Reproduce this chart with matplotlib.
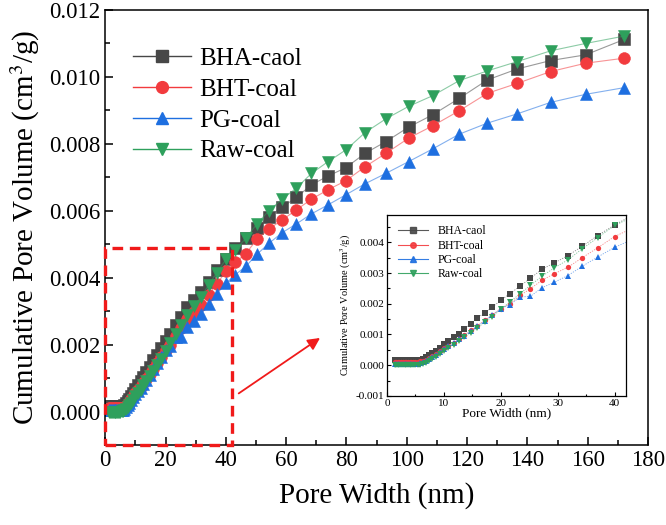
import matplotlib
matplotlib.use('Agg')
import matplotlib.pyplot as plt
from matplotlib.ticker import MultipleLocator, FormatStrFormatter
from matplotlib.patches import Rectangle

plt.rcParams['font.family'] = ['Liberation Serif', 'DejaVu Serif']
plt.rcParams['mathtext.fontset'] = 'stix'

# pore width (nm), shared by all four samples
width = [1.4, 1.6, 1.9, 2.2, 2.5, 2.8, 3.1, 3.4, 3.7, 4.0, 4.3, 4.6, 5.0, 5.4,
         5.8, 6.3, 6.8, 7.4, 7.9, 8.6, 9.3, 10.0, 10.8, 11.7, 12.6, 13.6, 14.7,
         15.9, 17.2, 18.5, 20.0, 21.6, 23.4, 25.2, 27.2, 29.4, 31.8, 34.3, 37.0,
         40.0, 43.1, 46.6, 50.3, 54.3, 58.7, 63.4, 68.4, 73.9, 79.8, 86.2, 93.1,
         100.6, 108.6, 117.4, 126.7, 136.7, 147.7, 159.3, 172.1]

# cumulative pore volume, 1e-3 cm3/g
bha = [0.16, 0.16, 0.16, 0.16, 0.16, 0.16, 0.16, 0.16, 0.16, 0.16, 0.16, 0.16, 0.16, 0.17,
       0.18, 0.21, 0.26, 0.32, 0.39, 0.47, 0.57, 0.68, 0.79, 0.92, 1.03, 1.19, 1.35,
       1.55, 1.70, 1.89, 2.11, 2.33, 2.58, 2.83, 3.12, 3.33, 3.57, 3.87, 4.22,
       4.57, 4.88, 5.18, 5.50, 5.83, 6.11, 6.40, 6.78, 7.04, 7.29, 7.72, 8.07,
       8.50, 8.87, 9.36, 9.91, 10.24, 10.49, 10.66, 11.12]
bht = [0.11, 0.11, 0.11, 0.11, 0.11, 0.11, 0.11, 0.11, 0.11, 0.11, 0.11, 0.11, 0.11, 0.11,
       0.12, 0.14, 0.18, 0.23, 0.29, 0.37, 0.45, 0.55, 0.64, 0.73, 0.86, 0.98, 1.13,
       1.29, 1.46, 1.64, 1.84, 2.00, 2.27, 2.49, 2.76, 2.98, 3.19, 3.50, 3.82,
       4.19, 4.46, 4.72, 5.15, 5.46, 5.73, 6.03, 6.35, 6.63, 6.90, 7.32, 7.72,
       8.17, 8.54, 8.99, 9.51, 9.81, 10.16, 10.41, 10.56]
pg = [0.04, 0.04, 0.04, 0.04, 0.04, 0.04, 0.04, 0.04, 0.04, 0.04, 0.04, 0.04, 0.04, 0.05,
      0.06, 0.09, 0.13, 0.19, 0.25, 0.34, 0.43, 0.52, 0.62, 0.71, 0.84, 0.96, 1.11,
      1.27, 1.45, 1.63, 1.84, 1.97, 2.22, 2.24, 2.52, 2.70, 2.92, 3.22, 3.52,
      3.84, 4.09, 4.34, 4.70, 5.03, 5.35, 5.61, 5.91, 6.18, 6.48, 6.81, 7.12,
      7.47, 7.85, 8.29, 8.62, 8.90, 9.24, 9.48, 9.68]
raw = [-0.01, -0.01, -0.01, -0.01, -0.01, -0.01, -0.01, -0.01, -0.01, -0.01, -0.01, 0.0, 0.0, 0.01,
       0.02, 0.04, 0.08, 0.13, 0.19, 0.27, 0.36, 0.46, 0.57, 0.66, 0.79, 0.91, 1.06,
       1.22, 1.40, 1.58, 1.82, 2.06, 2.33, 2.60, 2.89, 3.17, 3.43, 3.79, 4.15,
       4.55, 4.82, 5.18, 5.61, 6.01, 6.35, 6.68, 7.12, 7.47, 7.82, 8.34, 8.75,
       9.12, 9.44, 9.89, 10.18, 10.46, 10.78, 11.00, 11.22]

labels = ['BHA-caol', 'BHT-coal', 'PG-coal', 'Raw-coal']
colors = ['#474747', '#f23b3e', '#1e6fe0', '#2ea05c']
markers = ['s', 'o', '^', 'v']
series = [bha, bht, pg, raw]

fig = plt.figure(figsize=(6.66, 5.25), dpi=100)
ax = fig.add_axes([0.158, 0.152, 0.815, 0.829])

for vals, lab, col, mk in zip(series, labels, colors, markers):
    y = [v / 1000 for v in vals]
    ax.plot(width, y, color=col, lw=0.8, alpha=0.55)
    ax.plot(width, y, ls='none', marker=mk, ms=8.5, color=col, mec=col, mew=0.4)

handles = [plt.Line2D([], [], color=c, lw=1.0, marker=m, ms=8.5, alpha=1)
           for c, m in zip(colors, markers)]
ax.legend(handles, labels, loc='upper left', bbox_to_anchor=(0.01, 0.965),
          frameon=False, fontsize=18, handlelength=2.3, handletextpad=0.35,
          labelspacing=0.33, borderaxespad=0.5)

ax.set_xlim(0, 180)
ax.set_ylim(-0.001, 0.012)
ax.xaxis.set_major_locator(MultipleLocator(20))
ax.xaxis.set_minor_locator(MultipleLocator(10))
ax.yaxis.set_major_locator(MultipleLocator(0.002))
ax.yaxis.set_minor_locator(MultipleLocator(0.001))
ax.yaxis.set_major_formatter(FormatStrFormatter('%.3f'))
ax.tick_params(which='both', direction='in', labelsize=16.5, width=1.1)
ax.tick_params(which='major', length=6)
ax.tick_params(which='minor', length=3.5)
for s in ax.spines.values():
    s.set_linewidth(1.1)
ax.set_xlabel('Pore Width (nm)', fontsize=21, labelpad=8)
ax.set_ylabel('Cumulative Pore Volume (cm$^3$/g)', fontsize=21, labelpad=5)

# zoom box and arrow
rect = Rectangle((0, -0.001), 42, 0.0059, fill=False, ec='#f01a1a', lw=2.4,
                 ls=(0, (3.2, 2)), clip_on=False, zorder=10)
ax.add_patch(rect)
ax.annotate('', xy=(72, 0.00225), xytext=(43.5, 0.0005),
            arrowprops=dict(arrowstyle='-|>', color='#f01a1a', lw=1.3,
                            mutation_scale=18))

# inset
ins = fig.add_axes([0.581, 0.246, 0.359, 0.345])
for vals, lab, col, mk in zip(series, labels, colors, markers):
    y = [v / 1000 for v in vals]
    ins.plot(width, y, color=col, lw=0.6, ls=(0, (1.5, 1.5)), alpha=0.6)
    ins.plot(width, y, ls='none', marker=mk, ms=3.8, color=col, mew=0)
ih = [plt.Line2D([], [], color=c, lw=0.8, marker=m, ms=4, alpha=0.9)
      for c, m in zip(colors, markers)]
ins.legend(ih, labels, loc='upper left', frameon=False, fontsize=8.5,
           handlelength=2.6, handletextpad=0.8, labelspacing=0.2,
           borderaxespad=0.5)
ins.set_xlim(0, 42)
ins.set_ylim(-0.001, 0.0049)
ins.xaxis.set_major_locator(MultipleLocator(10))
ins.xaxis.set_minor_locator(MultipleLocator(5))
ins.yaxis.set_major_locator(MultipleLocator(0.001))
ins.yaxis.set_minor_locator(MultipleLocator(0.0005))
ins.yaxis.set_major_formatter(FormatStrFormatter('%.3f'))
ins.tick_params(which='both', direction='in', labelsize=8, width=0.8, pad=2)
ins.tick_params(which='major', length=3)
ins.tick_params(which='minor', length=1.8)
for s in ins.spines.values():
    s.set_linewidth(0.9)
ins.set_xlabel('Pore Width (nm)', fontsize=9.5, labelpad=0)
ins.set_ylabel('Cumulative Pore Volume (cm$^3$/g)', fontsize=7.5, labelpad=2)

fig.savefig('out.png', dpi=100)
